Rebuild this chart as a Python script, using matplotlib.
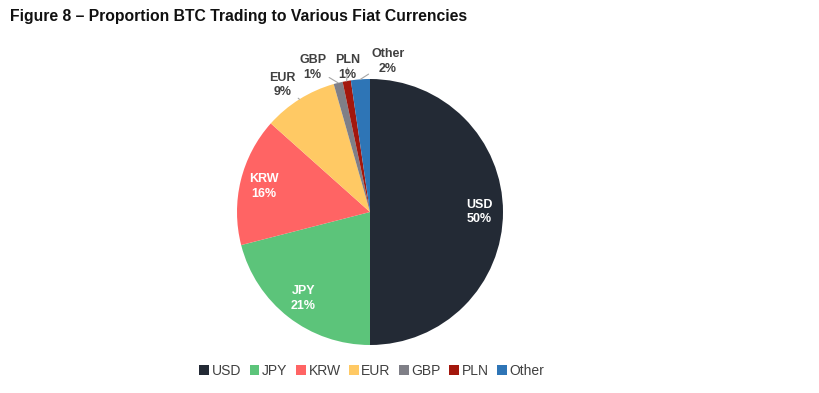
import numpy as np
import matplotlib.pyplot as plt

plt.rcParams['font.family'] = ['Liberation Sans', 'DejaVu Sans']

# data
currencies = ["USD", "JPY", "KRW", "EUR", "GBP", "PLN", "Other"]
shares = [50.0, 21.0, 15.6, 9.0, 1.1, 1.0, 2.3]
colors = ["#232a35", "#5cc47a", "#ff6464", "#ffc964", "#7f7f87", "#a3170c", "#2e75b6"]

fig = plt.figure(figsize=(8.2, 3.93), dpi=100)
fig.text(0.012, 0.958, "Figure 8 \u2013 Proportion BTC Trading to Various Fiat Currencies",
         fontsize=11.3, fontweight='bold', color='#111111', va='center')

ax = fig.add_axes([237 / 820, 48 / 393, 266 / 820, 266 / 393])
wedges, _ = ax.pie(shares, colors=colors, startangle=90, counterclock=False,
                   wedgeprops=dict(linewidth=0))
ax.set_xlim(-1, 1)
ax.set_ylim(-1, 1)
ax.set_aspect('equal')

# labels inside the big slices
for w, name, val in zip(wedges[:3], currencies[:3], shares[:3]):
    ang = np.deg2rad((w.theta1 + w.theta2) / 2)
    ax.text(0.82 * np.cos(ang), 0.82 * np.sin(ang), f"{name}\n{round(val)}%",
            ha='center', va='center', color='white', fontsize=9,
            fontweight='bold', linespacing=1.3)

# labels outside the small slices with leader lines
outside = {"EUR": (-0.66, 0.955), "GBP": (-0.43, 1.085), "PLN": (-0.17, 1.085),
           "Other": (0.135, 1.13)}
for w, name, val in zip(wedges[3:], currencies[3:], shares[3:]):
    ang = np.deg2rad((w.theta1 + w.theta2) / 2)
    tx, ty = outside[name]
    ax.annotate(f"{name}\n{round(val)}%", xy=(np.cos(ang), np.sin(ang)), xytext=(tx, ty),
                ha='center', va='center', fontsize=9, fontweight='bold',
                color='#404040', linespacing=1.3, annotation_clip=False,
                arrowprops=dict(arrowstyle='-', color='#a6a6a6', lw=0.8,
                                shrinkA=10, shrinkB=0))

leg = fig.legend(wedges, currencies, loc='center', bbox_to_anchor=(372 / 820, 1 - 371 / 393),
                 ncol=7, frameon=False, fontsize=10, handlelength=0.7, handleheight=0.7,
                 handletextpad=0.2, columnspacing=0.6, labelcolor='#404040')

fig.savefig("out.png", dpi=100, facecolor='white')
